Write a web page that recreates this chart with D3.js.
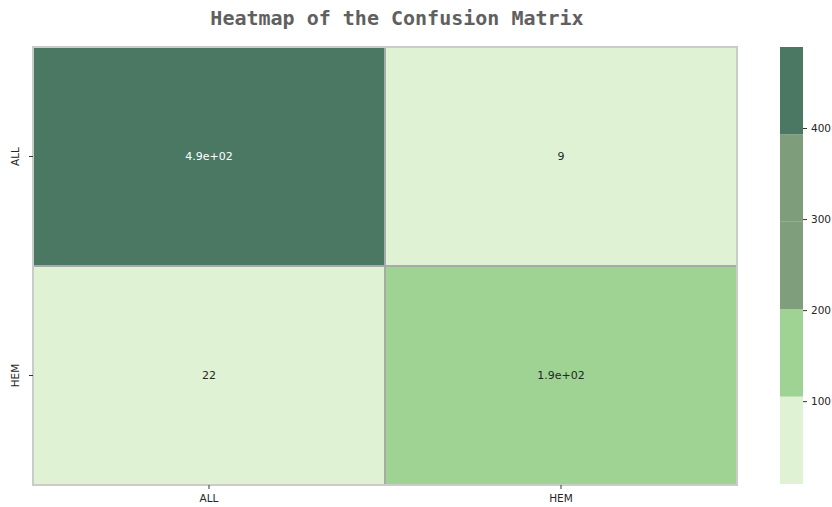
<!DOCTYPE html>
<html>
<head>
<meta charset="utf-8">
<script src="https://cdn.jsdelivr.net/npm/d3@7"></script>
<style>
  body { margin: 0; background: #fff; }
  svg text { font-family: "DejaVu Sans", sans-serif; }
</style>
</head>
<body>
<script>
// confusion matrix data
const labels = ["ALL", "HEM"];
const rowAll = [489, 9];
const rowHem = [22, 187];
const colorTicks = [100, 200, 300, 400];
const palette = ["#dff3d4", "#9ed393", "#7f9e7c", "#7e9d7b", "#4a7862"];

const matrix = [rowAll, rowHem];
const cells = [];
matrix.forEach(function (row, i) {
  row.forEach(function (v, j) {
    cells.push({ row: labels[i], col: labels[j], value: v });
  });
});

const width = 832, height = 507;
const svg = d3.select("body").append("svg")
  .attr("width", width)
  .attr("height", height);

const mLeft = 33, mRight = 737, mTop = 47, mBottom = 485;

const x = d3.scaleBand().domain(labels).range([mLeft, mRight]);
const y = d3.scaleBand().domain(labels).range([mTop, mBottom]);

const allVals = rowAll.concat(rowHem);
const vmin = d3.min(allVals), vmax = d3.max(allVals);
const color = d3.scaleQuantize().domain([vmin, vmax]).range(palette);

// 2g formatting like matplotlib
function fmt(v) {
  const e = Math.floor(Math.log10(Math.abs(v)));
  if (e >= 2) {
    const s = v.toExponential(1).split("e");
    const sign = s[1][0];
    let ex = s[1].slice(1);
    if (ex.length < 2) ex = "0" + ex;
    return s[0] + "e" + sign + ex;
  }
  return d3.format(".2~g")(v);
}

// title
svg.append("text")
  .attr("x", 397)
  .attr("y", 25)
  .attr("text-anchor", "middle")
  .style("font-family", "'DejaVu Sans Mono', monospace")
  .style("font-weight", "bold")
  .style("font-size", "20px")
  .attr("fill", "#606060")
  .text("Heatmap of the Confusion Matrix");

// cells
svg.append("g").selectAll("rect")
  .data(cells)
  .enter()
  .append("rect")
  .attr("x", d => x(d.col))
  .attr("y", d => y(d.row))
  .attr("width", x.bandwidth())
  .attr("height", y.bandwidth())
  .attr("fill", d => color(d.value))
  .attr("stroke", "#a6aba6")
  .attr("stroke-width", 2);

// lighter outer frame
svg.append("rect")
  .attr("x", mLeft)
  .attr("y", mTop)
  .attr("width", mRight - mLeft)
  .attr("height", mBottom - mTop)
  .attr("fill", "none")
  .attr("stroke", "#c8cdc8")
  .attr("stroke-width", 2);

svg.append("g").selectAll("text")
  .data(cells)
  .enter()
  .append("text")
  .attr("x", d => x(d.col) + x.bandwidth() / 2)
  .attr("y", d => y(d.row) + y.bandwidth() / 2)
  .attr("dy", "0.35em")
  .attr("text-anchor", "middle")
  .style("font-size", "11px")
  .attr("fill", d => d.value > 300 ? "#ffffff" : "#262626")
  .text(d => fmt(d.value));

// axes
const xAxis = svg.append("g")
  .attr("transform", "translate(0," + mBottom + ")")
  .call(d3.axisBottom(x).tickSize(4).tickPadding(6));
const yAxis = svg.append("g")
  .attr("transform", "translate(" + mLeft + ",0)")
  .call(d3.axisLeft(y).tickSize(4).tickPadding(4));
[xAxis, yAxis].forEach(function (a) {
  a.select(".domain").remove();
  a.selectAll("line").attr("stroke", "#333");
  a.selectAll("text").attr("fill", "#262626").style("font-size", "10.5px");
});
yAxis.selectAll(".tick text")
  .attr("text-anchor", "middle")
  .attr("dy", "0")
  .attr("x", 0)
  .attr("transform", "translate(-14,0) rotate(-90)");

// colorbar
const cbX = 780, cbW = 23;
const cbScale = d3.scaleLinear().domain([vmin, vmax]).range([484, mTop]);
const steps = d3.range(palette.length).map(function (i) {
  const t0 = vmin + (vmax - vmin) * i / palette.length;
  const t1 = vmin + (vmax - vmin) * (i + 1) / palette.length;
  return { lo: t0, hi: t1, c: palette[i] };
});
svg.append("g").selectAll("rect")
  .data(steps)
  .enter()
  .append("rect")
  .attr("x", cbX)
  .attr("width", cbW)
  .attr("y", d => cbScale(d.hi))
  .attr("height", d => cbScale(d.lo) - cbScale(d.hi))
  .attr("fill", d => d.c);

const cbAxis = svg.append("g")
  .attr("transform", "translate(" + (cbX + cbW) + ",0)")
  .call(d3.axisRight(cbScale).tickValues(colorTicks).tickSize(4).tickPadding(4));
cbAxis.select(".domain").remove();
cbAxis.selectAll("line").attr("stroke", "#333");
cbAxis.selectAll("text").attr("fill", "#262626").style("font-size", "10.5px");
</script>
</body>
</html>
